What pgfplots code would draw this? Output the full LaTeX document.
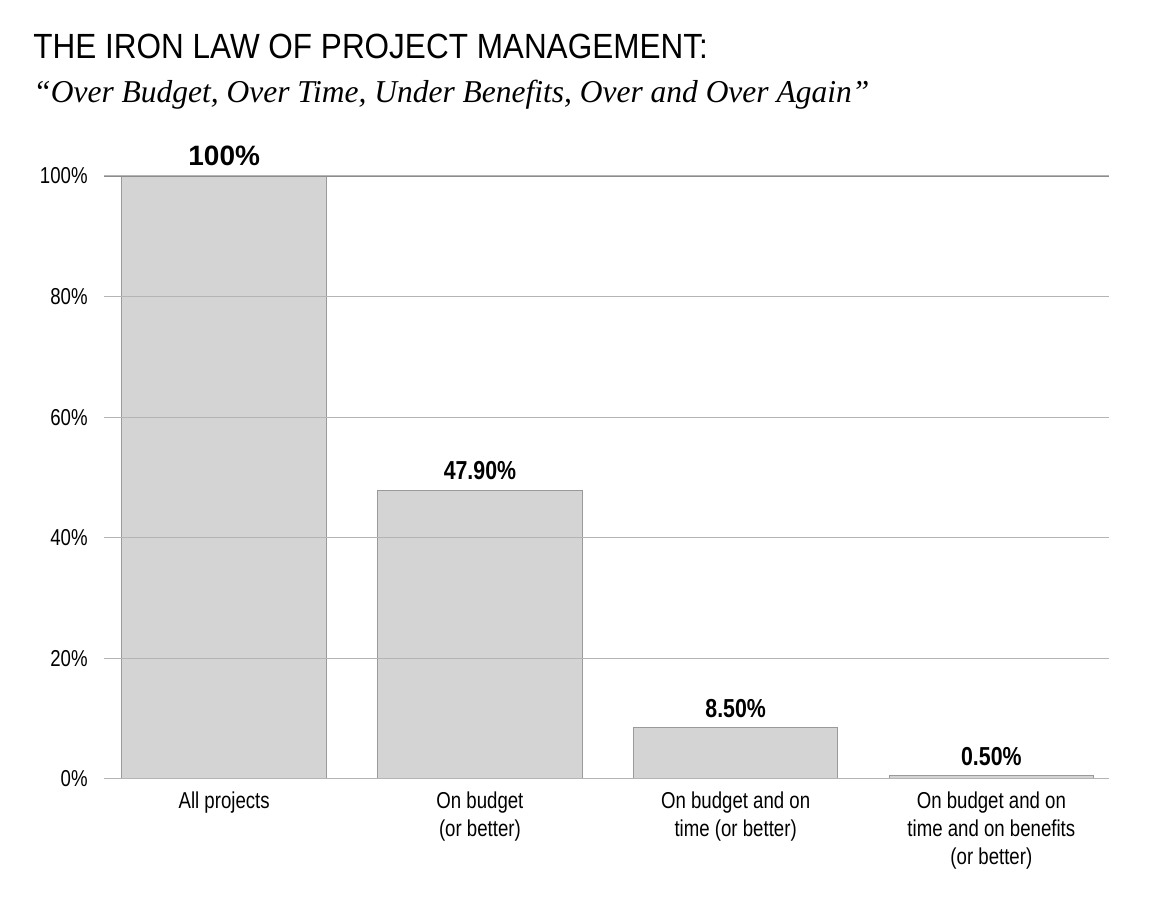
\documentclass[border=0pt]{standalone}
\usepackage{fontspec}
\setmainfont{Liberation Sans}
\newfontfamily\cond[FakeStretch=0.81]{Liberation Sans}
\newfontfamily\condb[FakeStretch=0.82]{Liberation Sans}
\newfontfamily\titlefont[FakeStretch=0.9]{Liberation Sans}
\newfontfamily\subfont[FakeStretch=0.99]{Liberation Serif}
\usepackage{pgfplots}
\pgfplotsset{compat=1.18}
\definecolor{barfill}{HTML}{D4D4D4}
\definecolor{bardraw}{HTML}{9A9A9A}
\definecolor{gridc}{HTML}{B4B4B4}
\definecolor{topc}{HTML}{8C8C8C}
\begin{document}
\begin{tikzpicture}
\useasboundingbox (0,0) rectangle (587pt,450pt);
\node[anchor=base west, inner sep=0pt] at (16.5pt,420.5pt) {\titlefont\fontsize{17.5}{20}\selectfont THE IRON LAW OF PROJECT MANAGEMENT:};
\node[anchor=base west, inner sep=0pt] at (16.5pt,398.5pt) {\subfont\itshape\fontsize{15.9}{18}\selectfont “Over Budget, Over Time, Under Benefits, Over and Over Again”};
\begin{axis}[
  at={(52pt,60.5pt)}, anchor=south west,
  scale only axis, width=502.5pt, height=301.5pt,
  xmin=-0.47, xmax=3.46, ymin=0, ymax=100,
  axis line style={draw=none},
  axis on top,
  ymajorgrids, grid style={gridc, line width=0.5pt},
  major tick length=0pt,
  ytick={0,20,40,60,80,100},
  yticklabels={0\%,20\%,40\%,60\%,80\%,100\%},
  yticklabel style={anchor=east, inner sep=0pt, xshift=-8pt, font=\cond\fontsize{11.5}{13}\selectfont},
  xtick={0,1,2,3},
  xticklabels={{All projects},{On budget\\(or better)},{On budget and on\\time (or better)},{On budget and on\\time and on benefits\\(or better)}},
  xticklabel style={anchor=north, inner sep=0pt, yshift=-6pt, align=center, font=\cond\fontsize{11.5}{14}\selectfont},
  ybar, bar width=0.8,
  nodes near coords,
  point meta=explicit symbolic,
  every node near coord/.append style={inner sep=0pt, yshift=4.8pt, black},
]
\draw[black, line width=0.8pt] (rel axis cs:0,0) -- (rel axis cs:1,0);
\addplot[fill=barfill, draw=bardraw, line width=0.5pt] coordinates {
  (0,100) [{\bfseries\fontsize{14}{16}\selectfont 100\%}]
  (1,47.9) [{\condb\bfseries\fontsize{13}{15}\selectfont 47.90\%}]
  (2,8.5) [{\condb\bfseries\fontsize{13}{15}\selectfont 8.50\%}]
  (3,0.5) [{\condb\bfseries\fontsize{13}{15}\selectfont 0.50\%}]
};
\draw[topc, line width=1pt] (rel axis cs:0,1) -- (rel axis cs:1,1);
\end{axis}
\end{tikzpicture}
\end{document}
